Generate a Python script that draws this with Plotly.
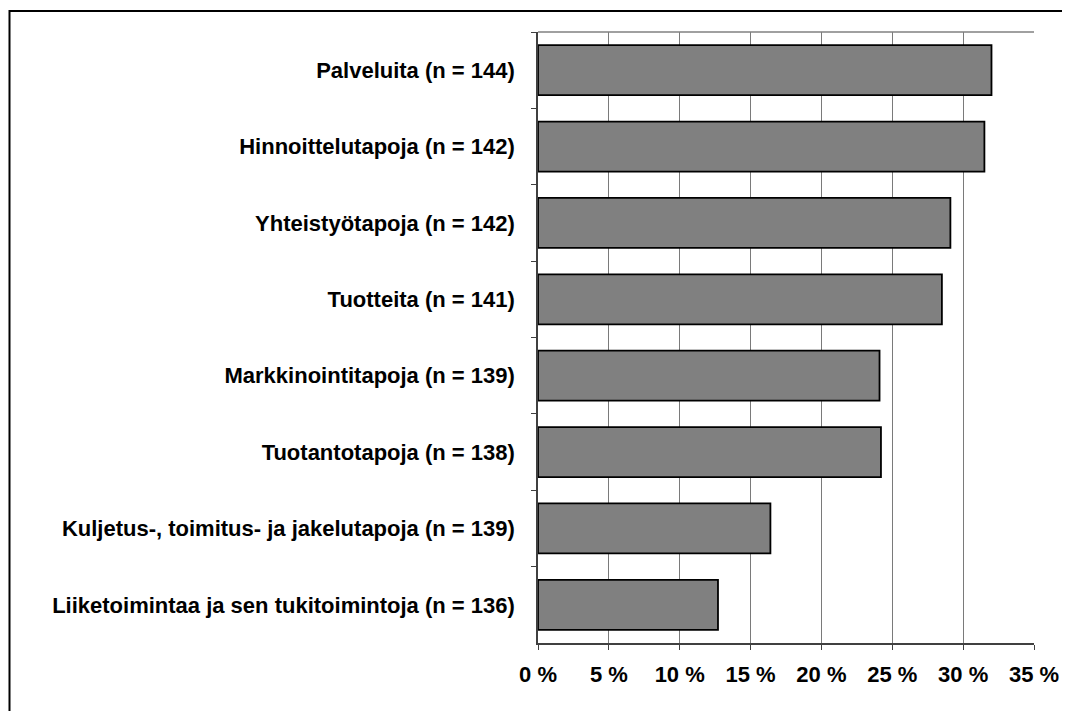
import plotly.graph_objects as go

categories = [
    "Palveluita (n = 144)",
    "Hinnoittelutapoja (n = 142)",
    "Yhteistyötapoja (n = 142)",
    "Tuotteita (n = 141)",
    "Markkinointitapoja (n = 139)",
    "Tuotantotapoja (n = 138)",
    "Kuljetus-, toimitus- ja jakelutapoja (n = 139)",
    "Liiketoimintaa ja sen tukitoimintoja (n = 136)",
]
values = [32.0, 31.5, 29.1, 28.5, 24.1, 24.2, 16.4, 12.7]
x_ticks = [0, 5, 10, 15, 20, 25, 30, 35]
x_tick_labels = [f"{v} %" for v in x_ticks]

# page has an 8px body margin, so positions are shifted accordingly
OFF = 8
W, H = 1070, 711
L, R, T, B = 538 - OFF, 36 + OFF, 32 - OFF, 68 + OFF
pw, ph = W - L - R, H - T - B

def px_x(p):
    return (p - OFF - L) / pw

def px_y(p):
    return (H - B - (p - OFF)) / ph

fig = go.Figure(go.Bar(
    x=values,
    y=categories,
    orientation="h",
    marker=dict(color="#808080", line=dict(color="#000000", width=1.8)),
    hoverinfo="x+y",
))

tfont = dict(family="Liberation Sans, Arial, sans-serif", size=22, color="#000000", weight="bold")

fig.update_layout(
    width=W, height=H,
    margin=dict(l=L, r=R, t=T, b=B, pad=0),
    paper_bgcolor="white",
    plot_bgcolor="white",
    bargap=0.345,
    showlegend=False,
    font=dict(family="Liberation Sans, Arial, sans-serif", size=22, color="#000000"),
    xaxis=dict(
        range=[0, 35],
        tickvals=x_ticks,
        ticktext=x_tick_labels,
        showgrid=True,
        gridcolor="#7a7a7a",
        gridwidth=1.2,
        showline=True,
        linecolor="#404040",
        linewidth=1.5,
        ticks="outside",
        ticklen=5,
        tickcolor="#404040",
        tickfont=tfont,
        ticklabelstandoff=6,
        zeroline=False,
        fixedrange=True,
    ),
    yaxis=dict(
        categoryorder="array",
        categoryarray=categories,
        autorange="reversed",
        showgrid=False,
        showline=True,
        linecolor="#404040",
        linewidth=1.5,
        ticks="outside",
        tickson="boundaries",
        ticklen=5,
        tickcolor="#404040",
        tickfont=tfont,
        ticklabelstandoff=17,
        fixedrange=True,
    ),
    shapes=[
        dict(type="line", xref="paper", yref="paper", x0=0, x1=1, y0=1, y1=1,
             line=dict(color="#808080", width=1.5)),
        dict(type="rect", xref="paper", yref="paper",
             x0=px_x(9.5), x1=px_x(1085), y0=px_y(11), y1=px_y(730),
             line=dict(color="#000000", width=2), fillcolor="rgba(0,0,0,0)"),
    ],
)

fig.write_html("out.html")
